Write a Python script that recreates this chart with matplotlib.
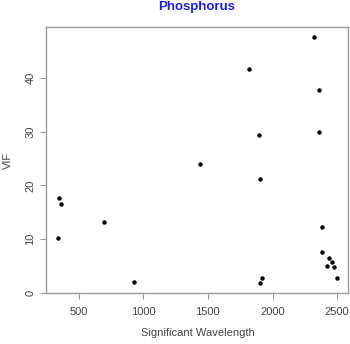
import numpy as np
import matplotlib
matplotlib.use("Agg")
import matplotlib.pyplot as plt

# significant wavelengths and their VIF values
wavelength = [351, 364, 338, 693, 928, 1440, 1820, 1898, 1901, 1919, 1906,
              2322, 2361, 2356, 2380, 2384, 2436, 2459, 2423, 2472, 2500]
vif = [17.7, 16.6, 10.2, 13.1, 2.0, 23.9, 41.6, 29.4, 21.2, 2.8, 1.8,
       47.6, 37.8, 29.9, 12.2, 7.6, 6.5, 5.7, 5.0, 4.8, 2.7]
xticks = [500, 1000, 1500, 2000, 2500]
yticks = [0, 10, 20, 30, 40]

plt.rcParams['font.family'] = ['Liberation Sans', 'DejaVu Sans']

fig = plt.figure(figsize=(3.5, 3.44), dpi=100)
ax = fig.add_axes([0.1326, 0.148, 0.8628, 0.7735])

ax.plot(wavelength, vif, 'o', color='black', markersize=3.2, markeredgewidth=0)

# R style 4% padding
x = np.array(wavelength)
y = np.array(vif)
dx = (x.max() - x.min()) * 0.04
dy = (y.max() - y.min()) * 0.04
ax.set_xlim(x.min() - dx, x.max() + dx)
ax.set_ylim(y.min() - dy, y.max() + dy)

ax.set_xticks(xticks)
ax.set_yticks(yticks)
ax.set_yticklabels([str(v) for v in yticks], rotation=90, va='center')

for s in ax.spines.values():
    s.set_color('#999999')
    s.set_linewidth(1.0)
ax.tick_params(axis='both', colors='#999999', labelcolor='#444444',
               labelsize=8, length=4, width=0.8, direction='out')
ax.tick_params(axis='x', pad=6)
ax.tick_params(axis='y', pad=4)

ax.set_xlabel('Significant Wavelength', fontsize=8, color='#444444', labelpad=8)
ax.set_ylabel('VIF', fontsize=8, color='#444444', labelpad=9)
fig.text(0.563, 0.981, 'Phosphorus', color='#1a1aff', fontsize=9.5,
         fontweight='bold', ha='center', va='center')

plt.savefig('out.png', dpi=100)
